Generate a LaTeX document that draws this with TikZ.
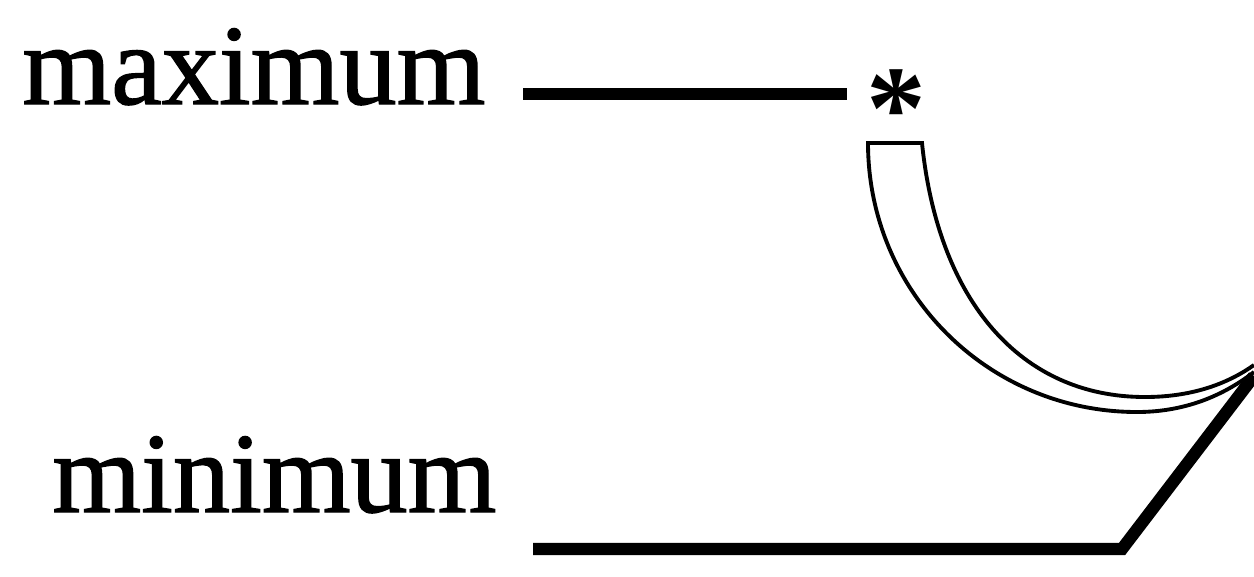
\documentclass[tikz,border=0pt]{standalone}
\usepackage{fontspec}
\setmainfont{Liberation Serif}
\newfontfamily\labfont[FakeBold=1.2]{Liberation Serif}
\begin{document}
\begin{tikzpicture}[x=0.02cm,y=-0.02cm,
  lab/.style={anchor=base west,inner sep=0pt,font=\labfont\fontsize{65}{78}\selectfont},
  starmark/.style={anchor=base,inner sep=0pt,font=\fontsize{68}{78}\selectfont\bfseries},
  lead/.style={line width=7pt},
  tube/.style={line width=2.2pt,line join=miter}]
\useasboundingbox (0,0) rectangle (1254,576);
% labels
\node[lab] (max) at (22,104) {maximum};
\node[lab] (min) at (52,512) {minimum};
\node[starmark] (star) at (896,148) {*};
% leader lines
\coordinate (maxA) at (523,94);
\coordinate (maxB) at (847,94);
\coordinate (minA) at (533,549);
\coordinate (minK) at (1122,549);
\coordinate (tip) at (1254,376);
\draw[lead] (maxA) -- (maxB);
\draw[lead,line join=miter] (minA) -- (minK) -- (tip);
% tube
\coordinate (capL) at (868,143);
\coordinate (capR) at (922,143);
\draw[tube] (1254,372) .. controls (1228,392) and (1190,412) .. (1137,412)
   .. controls (988,412) and (868,292) .. (capL) -- (capR)
   .. controls (938,300) and (1020,397) .. (1145,397)
   .. controls (1195,397) and (1230,382) .. (1254,365);
\end{tikzpicture}
\end{document}
